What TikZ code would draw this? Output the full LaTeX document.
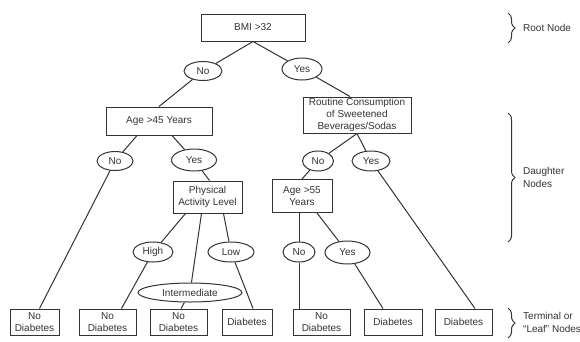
\documentclass[tikz,border=0pt]{standalone}
\usepackage{fontspec}
\setmainfont{Liberation Sans}
\usetikzlibrary{shapes.geometric,decorations.pathreplacing}
\definecolor{ink}{HTML}{333333}
\tikzset{
  box/.style={draw=ink,line width=1pt,rectangle,inner sep=0pt,align=center,text=ink,font=\fontsize{10}{11.8}\selectfont},
  oval/.style={draw=ink,line width=1pt,ellipse,inner sep=0pt,align=center,text=ink,font=\fontsize{10}{11.8}\selectfont},
  edge/.style={draw=ink,line width=1pt},
  lab/.style={anchor=west,align=left,text=ink,inner sep=0pt,font=\fontsize{10}{13}\selectfont},
  brc/.style={draw=ink,line width=1pt,decorate,decoration={brace,amplitude=7pt,aspect=0.5}}
}
\begin{document}
\begin{tikzpicture}[x=1pt,y=-1pt]
\useasboundingbox[fill=white] (0,0) rectangle (580,341);
% level 0
\node[box,minimum width=104pt,minimum height=27pt] (bmi) at (253,27.5) {BMI >32};
\node[oval,minimum width=38pt,minimum height=19pt] (no1) at (203,71) {No};
\node[oval,minimum width=40pt,minimum height=22pt] (yes1) at (302,69) {Yes};
% level 1
\node[box,minimum width=106pt,minimum height=28pt] (age45) at (159,121) {Age >45 Years};
\node[box,minimum width=108pt,minimum height=36pt] (rout) at (357,115) {Routine Consumption\\of Sweetened\\Beverages/Sodas};
\node[oval,minimum width=36pt,minimum height=19pt] (no2) at (115,161) {No};
\node[oval,minimum width=45pt,minimum height=22pt] (yes2) at (194,160) {Yes};
\node[oval,minimum width=31pt,minimum height=20pt] (no3) at (318,161) {No};
\node[oval,minimum width=38pt,minimum height=20pt] (yes3) at (371,161) {Yes};
% level 2
\node[box,minimum width=69pt,minimum height=32pt] (pal) at (207.5,197) {Physical\\Activity Level};
\node[box,minimum width=60pt,minimum height=33pt] (age55) at (302,196) {Age >55\\Years};
\node[oval,minimum width=40pt,minimum height=20pt] (high) at (153,252) {High};
\node[oval,minimum width=46pt,minimum height=20pt] (low) at (231,252) {Low};
\node[oval,minimum width=104pt,minimum height=19pt] (inter) at (190,292.5) {Intermediate};
\node[oval,minimum width=32pt,minimum height=20pt] (no4) at (299,252) {No};
\node[oval,minimum width=45pt,minimum height=23pt] (yes4) at (347.5,252.5) {Yes};
% leaves
\node[box,minimum width=49pt,minimum height=26pt] (l1) at (34.5,322) {No\\Diabetes};
\node[box,minimum width=57pt,minimum height=26pt] (l2) at (107.5,322) {No\\Diabetes};
\node[box,minimum width=57pt,minimum height=26pt] (l3) at (178.5,322) {No\\Diabetes};
\node[box,minimum width=50pt,minimum height=26pt] (l4) at (247,322) {Diabetes};
\node[box,minimum width=57pt,minimum height=26pt] (l5) at (321.5,322) {No\\Diabetes};
\node[box,minimum width=58pt,minimum height=26pt] (l6) at (393,322) {Diabetes};
\node[box,minimum width=57pt,minimum height=26pt] (l7) at (463.5,322) {Diabetes};
% connectors
\draw[edge] (bmi.south) -- (no1);
\draw[edge] (bmi.south) -- (yes1);
\draw[edge] (no1) -- (age45.north);
\draw[edge] (yes1) -- ([xshift=-7pt]rout.north);
\draw[edge] ([xshift=-22pt]age45.south) -- (no2);
\draw[edge] ([xshift=13pt]age45.south) -- (yes2);
\draw[edge] (rout.south) -- (no3);
\draw[edge] (rout.south) -- (yes3);
\draw[edge] (no2) -- ([xshift=5pt]l1.north);
\draw[edge] (yes2) -- ([xshift=2pt]pal.north);
\draw[edge] (no3) -- (age55.north);
\draw[edge] (yes3) -- ([xshift=11.5pt]l7.north);
\draw[edge] ([xshift=-22pt]pal.south) -- (high);
\draw[edge] ([xshift=-6pt]pal.south) -- (inter);
\draw[edge] ([xshift=16pt]pal.south) -- (low);
\draw[edge] (high) -- ([xshift=14pt]l2.north);
\draw[edge] (inter) -- ([xshift=2.5pt]l3.north);
\draw[edge] (low) -- ([xshift=6pt]l4.north);
\draw[edge] (age55.south -| no4) -- (no4);
\draw[edge] (no4) -- (no4 |- l5.north);
\draw[edge] ([xshift=15pt]age55.south) -- (yes4);
\draw[edge] (yes4) -- ([xshift=-10pt]l6.north);
% braces and labels
\coordinate (b1a) at (508,13);  \coordinate (b1b) at (508,43);
\coordinate (b2a) at (508,113); \coordinate (b2b) at (508,242);
\coordinate (b3a) at (508,308); \coordinate (b3b) at (508,338);
\draw[brc] (b1a) -- (b1b);
\draw[brc] (b2a) -- (b2b);
\draw[brc] (b3a) -- (b3b);
\node[lab] (t1) at (523,27.5) {Root Node};
\node[lab] (t2) at (523,177) {Daughter\\Nodes};
\node[lab] (t3) at (523,322) {Terminal or\\``Leaf'' Nodes};
\end{tikzpicture}
\end{document}
